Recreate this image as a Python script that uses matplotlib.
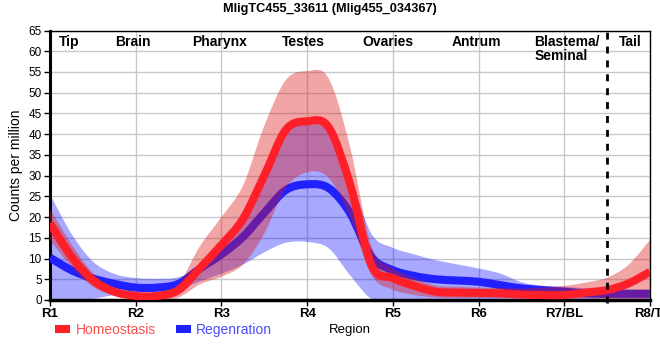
import numpy as np
import matplotlib
matplotlib.use("Agg")
import matplotlib.pyplot as plt
from matplotlib.path import Path
from matplotlib.patches import PathPatch
from matplotlib.lines import Line2D

plt.rcParams["font.family"] = ["Liberation Sans", "DejaVu Sans"]

# region positions (R1..R8 in steps of a quarter region)
x_pos = np.linspace(1, 8, 29)

# Homeostasis (red): mean and band
homeo_mean = [18.5, 10.5, 4.8, 2.0, 1.0, 1.0, 2.4, 7.7, 13.3, 19.5, 30.0, 41.0, 43.1, 41.7,
              28.0, 8.4, 5.3, 3.4, 2.0, 1.8, 1.7, 1.6, 1.3, 1.2, 1.2, 1.8, 2.4, 4.0, 6.8]
homeo_hi = [22.0, 13.5, 6.5, 3.0, 1.8, 1.8, 4.0, 13.0, 20.0, 27.5, 42.0, 53.0, 55.2, 53.5,
            37.0, 13.0, 7.7, 5.3, 3.5, 3.2, 3.0, 2.9, 2.8, 3.0, 3.4, 4.2, 5.4, 8.5, 14.5]
homeo_lo = [14.5, 8.0, 3.2, 1.0, 0.1, 0.1, 0.6, 3.8, 5.6, 8.5, 16.0, 27.0, 30.8, 29.5,
            20.0, 6.0, 2.5, 1.2, 0.6, 0.5, 0.5, 0.5, 0.5, 0.5, 0.5, 0.4, 0.3, 0.3, 0.3]

# Regeneration (blue): mean and band
regen_mean = [10.2, 7.2, 5.2, 3.9, 3.0, 3.0, 3.9, 7.6, 11.0, 15.2, 21.0, 26.5, 27.9, 27.0,
              21.0, 10.4, 7.2, 5.8, 5.0, 4.7, 4.4, 3.6, 2.8, 2.4, 2.0, 1.6, 1.5, 1.5, 1.5]
regen_hi = [25.5, 16.0, 9.3, 6.3, 5.3, 5.1, 5.5, 8.0, 13.3, 19.5, 30.0, 41.0, 43.0, 41.7,
            30.0, 16.0, 12.6, 11.0, 9.6, 8.6, 7.6, 6.4, 4.3, 3.4, 3.2, 2.8, 2.5, 2.5, 2.5]
regen_lo = [0.0, 0.0, 0.3, 1.2, 1.8, 1.8, 2.5, 4.5, 6.3, 8.5, 11.5, 13.8, 14.0, 12.5,
            6.0, 0.3, 0.0, 0.0, 0.0, 0.0, 0.0, 0.0, 0.0, 0.0, 0.0, 0.0, 0.0, 0.0, 0.0]

tick_labels = ["R1", "R2", "R3", "R4", "R5", "R6", "R7/BL", "R8/TI"]
region_names = ["Tip", "Brain", "Pharynx", "Testes", "Ovaries", "Antrum", "Blastema/\nSeminal", "Tail"]
region_name_x = [1.22, 1.97, 2.98, 3.96, 4.94, 5.98, 6.65, 7.77]

red = (1.0, 0.12, 0.16)
blue = (0.13, 0.13, 1.0)


def spline_verts(xs, ys):
    # smooth (catmull-rom style) bezier segments through the points
    p = np.column_stack([xs, ys]).astype(float)
    ext = np.vstack([p[0], p, p[-1]])
    verts = [p[0]]
    for i in range(len(p) - 1):
        p0, p1, p2, p3 = ext[i], ext[i + 1], ext[i + 2], ext[i + 3]
        verts += [p1 + (p2 - p0) / 6, p2 - (p3 - p1) / 6, p2]
    return verts


def curve(ax, xs, ys, **kw):
    verts = spline_verts(xs, ys)
    codes = [Path.MOVETO] + [Path.CURVE4] * (len(verts) - 1)
    ax.add_patch(PathPatch(Path(verts, codes), fill=False, capstyle="butt", joinstyle="round", **kw))


def band(ax, xs, lo, hi, **kw):
    up = spline_verts(xs, hi)
    down = spline_verts(xs[::-1], lo[::-1])
    verts = up + [down[0]] + down[1:] + [up[0]]
    codes = ([Path.MOVETO] + [Path.CURVE4] * (len(up) - 1) + [Path.LINETO]
             + [Path.CURVE4] * (len(down) - 1) + [Path.CLOSEPOLY])
    ax.add_patch(PathPatch(Path(verts, codes), lw=0, **kw))


fig = plt.figure(figsize=(6.6, 3.6), dpi=100)
ax = fig.add_axes([50/660, 1 - 300/360, 600/660, (300 - 30.5)/360])

# blue first, red drawn over it
band(ax, x_pos, regen_lo, regen_hi, facecolor=(0.0, 0.0, 1.0), alpha=0.34, zorder=2)
curve(ax, x_pos, regen_mean, edgecolor=blue, lw=5.8, zorder=3)
band(ax, x_pos, homeo_lo, homeo_hi, facecolor=(0.86, 0.08, 0.08), alpha=0.38, zorder=4)
curve(ax, x_pos, homeo_mean, edgecolor=red, lw=5.8, zorder=5)

ax.axvline(7.5, ymin=-0.012, ymax=1, color="black", lw=2, ls=(0, (2.5, 2.5)), zorder=6, clip_on=False)

ax.set_xlim(1, 8)
ax.set_ylim(0, 65)
ax.set_yticks(np.arange(0, 66, 5))
ax.set_xticks(range(1, 9))
ax.set_xticklabels(tick_labels, fontsize=9.5, fontweight="bold")
ax.tick_params(axis="y", labelsize=8.5, length=4, width=1, pad=2)
ax.tick_params(axis="x", length=4, width=1, pad=2)
ax.grid(True, color="#c8c8c8", lw=1, zorder=0)
ax.set_axisbelow(True)

for side in ["top", "right"]:
    ax.spines[side].set_linewidth(1)
ax.spines["left"].set_linewidth(2.2)
ax.spines["bottom"].set_linewidth(2.5)

for name, xn in zip(region_names, region_name_x):
    if "\n" in name:
        ax.text(xn, 63.8, name, ha="left", va="top", fontsize=10, fontweight="bold", linespacing=1.0)
    else:
        ax.text(xn, 63.8, name, ha="center", va="top", fontsize=10, fontweight="bold")

ax.set_ylabel("Counts per million", fontsize=10, labelpad=4)
fig.text(350/660, 1 - 330/360, "Region", ha="center", va="center", fontsize=9.5)
fig.text(330/660, 1 - 9/360, "MligTC455_33611 (Mlig455_034367)", ha="center", va="center",
         fontsize=9.2, fontweight="bold")

handles = [Line2D([], [], color=red, lw=5.8, solid_capstyle="butt"),
           Line2D([], [], color=blue, lw=5.8, solid_capstyle="butt")]
leg = fig.legend(handles, ["Homeostasis", "Regenration"], loc="center left",
                 bbox_to_anchor=(55/660, 1 - 330/360), ncol=2, frameon=False, fontsize=10,
                 handlelength=1.1, handletextpad=0.4, columnspacing=1.4, borderaxespad=0,
                 borderpad=0)
for txt, c in zip(leg.get_texts(), [(1.0, 0.3, 0.3), (0.3, 0.3, 1.0)]):
    txt.set_color(c)

fig.savefig("out.png", dpi=100)
